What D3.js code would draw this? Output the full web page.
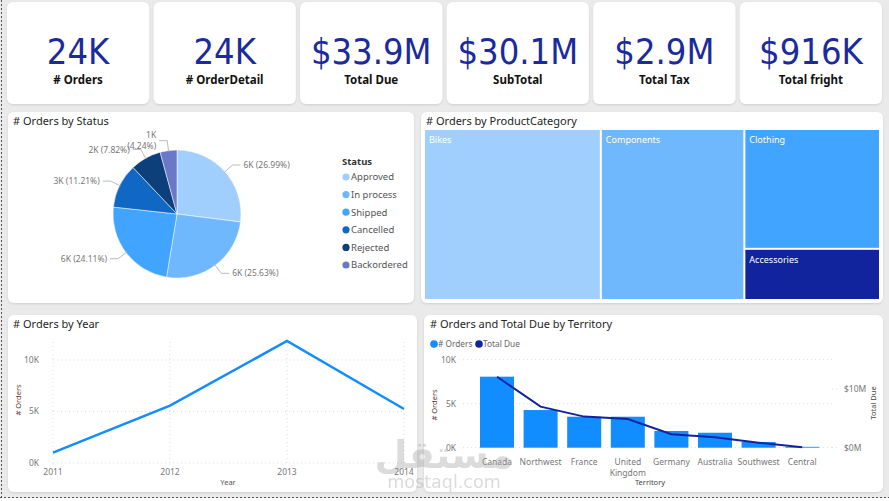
<!DOCTYPE html>
<html>
<head>
<meta charset="utf-8">
<script src="https://cdn.jsdelivr.net/npm/d3@7"></script>
<style>
  html, body { margin: 0; padding: 0; background: #fff; }
  svg { display: block; font-family: "Noto Sans", "Open Sans", sans-serif; }
</style>
</head>
<body>
<svg id="dash" width="889" height="501"></svg>
<script>
// ---- data ----
const kpiValues  = [23850, 23850, 33.9e6, 30.1e6, 2.9e6, 916e3];
const kpiFormats = [".2s", ".2s", "$.3s", "$.3s", "$.2s", "$.3s"];
const kpiLabels  = ["# Orders", "# OrderDetail", "Total Due", "SubTotal", "Total Tax", "Total fright"];

const statusNames  = ["Approved", "In process", "Shipped", "Cancelled", "Rejected", "Backordered"];
const statusCounts = [6437, 6113, 5750, 2674, 1865, 1011];
const statusColors = ["#a0cffe", "#6fb8fd", "#41a4ff", "#1167c4", "#0d3f7a", "#6b78c8"];

const categoryNames  = ["Bikes", "Components", "Clothing", "Accessories"];
const categoryOrders = [29400, 23860, 15800, 6750];
const categoryColors = ["#a0cffe", "#6fb8fd", "#41a4ff", "#12239e"];

const years        = [2011, 2012, 2013, 2014];
const ordersByYear = [1000, 5560, 11840, 5240];

const territories      = ["Canada", "Northwest", "France", "United Kingdom", "Germany", "Australia", "Southwest", "Central"];
const territoryOrders  = [8070, 4280, 3520, 3520, 1900, 1700, 650, 100];
const territoryDue     = [12.1e6, 7.0e6, 5.3e6, 4.9e6, 2.3e6, 1.8e6, 0.86e6, 0.07e6];

const svg = d3.select("#dash");
const tickColor = "#777";
const titleColor = "#252423";

// background
svg.append("rect").attr("width", 889).attr("height", 501).attr("fill", "#eaeaea");
svg.append("rect").attr("y", 498).attr("width", 889).attr("height", 3).attr("fill", "#fff");

const defs = svg.append("defs");
const shadow = defs.append("filter").attr("id", "shadow").attr("x", "-5%").attr("y", "-5%").attr("width", "110%").attr("height", "115%");
shadow.append("feDropShadow").attr("dx", 0).attr("dy", 1).attr("stdDeviation", 1.2)
  .attr("flood-color", "#000").attr("flood-opacity", 0.12);

function panel(x, y, w, h) {
  svg.append("rect").attr("x", x).attr("y", y).attr("width", w).attr("height", h)
    .attr("rx", 6).attr("fill", "#fff").attr("filter", "url(#shadow)");
  return svg.append("g").attr("transform", `translate(${x},${y})`);
}

// ---- KPI cards ----
const cardX = d3.scaleBand().domain(d3.range(kpiValues.length)).range([7, 882]).paddingInner(0.03);
kpiValues.forEach((v, i) => {
  const g = panel(cardX(i), 2, cardX.bandwidth(), 102);
  const cx = cardX.bandwidth() / 2;
  g.append("text").attr("x", cx).attr("y", 62).attr("text-anchor", "middle")
    .attr("font-family", "'DejaVu Sans Condensed', 'DejaVu Sans', sans-serif")
    .attr("font-size", 36).attr("fill", "#1b2a9c")
    .text(d3.format(kpiFormats[i])(v).replace("k", "K"));
  g.append("text").attr("x", cx).attr("y", 82).attr("text-anchor", "middle")
    .attr("font-size", 11.5).attr("font-weight", "bold").attr("fill", "#111")
    .text(kpiLabels[i]);
});

// ---- Orders by Status (pie) ----
{
  const g = panel(8, 112, 406, 191);
  g.append("text").attr("x", 5).attr("y", 13).attr("font-size", 11).attr("fill", titleColor).text("# Orders by Status");
  const cx = 169, cy = 102, r = 64;
  const total = d3.sum(statusCounts);
  const pie = d3.pie().sort(null)(statusCounts);
  const arc = d3.arc().innerRadius(0).outerRadius(r);
  const pg = g.append("g").attr("transform", `translate(${cx},${cy})`);
  pg.selectAll("path").data(pie).join("path")
    .attr("d", arc).attr("fill", (d, i) => statusColors[i])
    .attr("stroke", "#fff").attr("stroke-width", 0.5);

  pie.forEach((d, i) => {
    const a = (d.startAngle + d.endAngle) / 2;
    const p0 = [Math.sin(a) * (r - 1), -Math.cos(a) * (r - 1)];
    const p1 = [Math.sin(a) * (r + 10), -Math.cos(a) * (r + 10)];
    const right = Math.sin(a) > 0;
    const p2 = [p1[0] + (right ? 8 : -8), p1[1]];
    pg.append("polyline").attr("points", [p0, p1, p2].map(p => p.join(",")).join(" "))
      .attr("fill", "none").attr("stroke", "#bbb").attr("stroke-width", 1);
    const lbl = Math.round(d.data / 1000) + "K";
    const pct = "(" + (d.data / total * 100).toFixed(2) + "%)";
    const tx = p2[0] + (right ? 3 : -3);
    const t = pg.append("text").attr("x", tx).attr("text-anchor", right ? "start" : "end")
      .attr("font-size", 8.5).attr("fill", tickColor);
    if (i === statusCounts.length - 1) {
      t.attr("y", p2[1] - 3).text(lbl);
      pg.append("text").attr("x", tx).attr("y", p2[1] + 8).attr("text-anchor", "end")
        .attr("font-size", 8.5).attr("fill", tickColor).text(pct);
    } else {
      t.attr("y", p2[1] + 3).text(lbl + " " + pct);
    }
  });

  // legend
  const lg = g.append("g").attr("transform", "translate(334,49)");
  lg.append("text").attr("x", 0).attr("y", 4).attr("font-size", 9.5).attr("font-weight", "bold").attr("fill", "#333").text("Status");
  statusNames.forEach((n, i) => {
    const y = 16 + i * 17.6;
    lg.append("circle").attr("cx", 4).attr("cy", y).attr("r", 3.6).attr("fill", statusColors[i]);
    lg.append("text").attr("x", 9).attr("y", y + 3.3).attr("font-size", 9.5).attr("fill", "#555").text(n);
  });
}

// ---- Orders by ProductCategory (treemap) ----
{
  const g = panel(421, 112, 462, 191);
  g.append("text").attr("x", 5).attr("y", 13).attr("font-size", 11).attr("fill", titleColor).text("# Orders by ProductCategory");
  const root = d3.hierarchy({ children: categoryNames.map((n, i) => ({ name: n, value: categoryOrders[i], color: categoryColors[i] })) })
    .sum(d => d.value || 0);
  d3.treemap().tile(d3.treemapSquarify.ratio(1)).size([454, 169]).paddingInner(2).round(false)(root);
  const tg = g.append("g").attr("transform", "translate(4,18)");
  const cells = tg.selectAll("g").data(root.leaves()).join("g")
    .attr("transform", d => `translate(${d.x0},${d.y0})`);
  cells.append("rect").attr("width", d => d.x1 - d.x0).attr("height", d => d.y1 - d.y0)
    .attr("fill", d => d.data.color);
  cells.append("text").attr("x", 4).attr("y", 13).attr("font-size", 9).attr("fill", "#fff").text(d => d.data.name);
}

// ---- Orders by Year (line) ----
{
  const px = 8, py = 315;
  const g = panel(px, py, 409, 177);
  g.append("text").attr("x", 5).attr("y", 13).attr("font-size", 11).attr("fill", titleColor).text("# Orders by Year");
  const x = d3.scalePoint().domain(years).range([53 - px, 404 - px]);
  const y = d3.scaleLinear().domain([0, d3.max(ordersByYear)]).range([463 - py, 341 - py]);
  const yTicks = [0, 5000, 10000];
  g.append("g").selectAll("line").data(yTicks).join("line")
    .attr("x1", x.range()[0]).attr("x2", x.range()[1]).attr("y1", d => y(d)).attr("y2", d => y(d))
    .attr("stroke", "#ddd").attr("stroke-dasharray", "1,3");
  g.append("g").selectAll("line").data(years).join("line")
    .attr("x1", d => x(d)).attr("x2", d => x(d)).attr("y1", y.range()[0]).attr("y2", y.range()[1])
    .attr("stroke", "#ddd").attr("stroke-dasharray", "1,3");
  g.append("g").selectAll("text").data(yTicks).join("text")
    .attr("x", 39 - px).attr("y", d => y(d) + 3).attr("text-anchor", "end")
    .attr("font-size", 8.5).attr("fill", tickColor).text(d => d / 1000 + "K");
  g.append("g").selectAll("text").data(years).join("text")
    .attr("x", d => x(d)).attr("y", 475 - py).attr("text-anchor", "middle")
    .attr("font-size", 8.5).attr("fill", tickColor).text(d => d);
  g.append("text").attr("x", 228 - px).attr("y", 485 - py).attr("text-anchor", "middle")
    .attr("font-size", 7.5).attr("fill", "#555").text("Year");
  g.append("text").attr("transform", `translate(${21 - px},${400 - py}) rotate(-90)`).attr("text-anchor", "middle")
    .attr("font-size", 7.5).attr("fill", "#6a3a3a").text("# Orders");
  const line = d3.line().x((d, i) => x(years[i])).y(d => y(d));
  g.append("path").datum(ordersByYear).attr("d", line)
    .attr("fill", "none").attr("stroke", "#118dff").attr("stroke-width", 2.5).attr("stroke-linejoin", "miter");
}

// ---- Orders and Total Due by Territory (combo) ----
{
  const px = 424, py = 315;
  const g = panel(px, py, 459, 177);
  g.append("text").attr("x", 6).attr("y", 13).attr("font-size", 11).attr("fill", titleColor).text("# Orders and Total Due by Territory");
  // legend
  const lg = g.append("g").attr("transform", `translate(${434 - px},${344 - py})`);
  lg.append("circle").attr("cx", 0).attr("cy", 0).attr("r", 3.8).attr("fill", "#118dff");
  lg.append("text").attr("x", 4).attr("y", 3).attr("font-size", 8.3).attr("fill", "#666").text("# Orders");
  lg.append("circle").attr("cx", 45).attr("cy", 0).attr("r", 3.8).attr("fill", "#12239e");
  lg.append("text").attr("x", 49).attr("y", 3).attr("font-size", 8.3).attr("fill", "#666").text("Total Due");

  const x = d3.scaleBand().domain(territories).range([475.2 - px, 824 - px]).paddingInner(0.22).paddingOuter(0.11);
  const y = d3.scaleLinear().domain([0, 10000]).range([447.7 - py, 359.7 - py]);
  const y2 = d3.scaleLinear().domain([0, 15e6]).range([447.7 - py, 359.7 - py]);
  const yTicks = [0, 5000, 10000];
  g.append("g").selectAll("line").data(yTicks).join("line")
    .attr("x1", 463 - px).attr("x2", 835 - px).attr("y1", d => y(d)).attr("y2", d => y(d))
    .attr("stroke", "#ddd").attr("stroke-dasharray", "1,3");
  g.append("g").selectAll("text").data(yTicks).join("text")
    .attr("x", 456 - px).attr("y", d => y(d) + 3).attr("text-anchor", "end")
    .attr("font-size", 8.5).attr("fill", tickColor).text(d => d / 1000 + "K");
  const y2Ticks = [0, 10e6];
  g.append("g").selectAll("line").data(y2Ticks).join("line")
    .attr("x1", 832 - px).attr("x2", 838 - px).attr("y1", d => y2(d)).attr("y2", d => y2(d))
    .attr("stroke", "#ddd").attr("stroke-dasharray", "1,3");
  g.append("g").selectAll("text").data(y2Ticks).join("text")
    .attr("x", 844 - px).attr("y", d => y2(d) + 3)
    .attr("font-size", 8.5).attr("fill", tickColor).text(d => "$" + d / 1e6 + "M");
  g.append("text").attr("transform", `translate(${437 - px},${405 - py}) rotate(-90)`).attr("text-anchor", "middle")
    .attr("font-size", 7.5).attr("fill", "#5a3a3a").text("# Orders");
  g.append("text").attr("transform", `translate(${876 - px},${403 - py}) rotate(-90)`).attr("text-anchor", "middle")
    .attr("font-size", 7.5).attr("fill", "#444").text("Total Due");

  g.append("g").selectAll("rect").data(territoryOrders).join("rect")
    .attr("x", (d, i) => x(territories[i])).attr("width", x.bandwidth())
    .attr("y", d => y(d)).attr("height", d => y(0) - y(d)).attr("fill", "#118dff");

  const line = d3.line().x((d, i) => x(territories[i]) + x.bandwidth() / 2).y(d => y2(d));
  g.append("path").datum(territoryDue).attr("d", line)
    .attr("fill", "none").attr("stroke", "#12239e").attr("stroke-width", 2);

  const xl = g.append("g").selectAll("text").data(territories).join("text")
    .attr("text-anchor", "middle").attr("font-size", 8.5).attr("fill", tickColor);
  xl.each(function (d) {
    const t = d3.select(this);
    const cxp = x(d) + x.bandwidth() / 2;
    const words = d === "United Kingdom" ? ["United", "Kingdom"] : [d];
    words.forEach((w, k) => t.append("tspan").attr("x", cxp).attr("y", 465 - py + k * 11).text(w));
  });
  g.append("text").attr("x", 650 - px).attr("y", 485 - py).attr("text-anchor", "middle")
    .attr("font-size", 7.5).attr("fill", "#444").text("Territory");
}

// dotted frame of the report page
svg.append("line").attr("x1", 1.5).attr("x2", 1.5).attr("y1", 0).attr("y2", 498)
  .attr("stroke", "#555").attr("stroke-dasharray", "2,2");
svg.append("line").attr("x1", 0).attr("x2", 889).attr("y1", 497.5).attr("y2", 497.5)
  .attr("stroke", "#555").attr("stroke-dasharray", "2,2");

// watermark
const wm = svg.append("g").attr("fill", "#9a9a9a").attr("opacity", 0.35)
  .attr("font-family", "'DejaVu Sans', sans-serif").attr("font-weight", "bold");
wm.append("text").attr("x", 444).attr("y", 468).attr("text-anchor", "middle").attr("font-size", 38).text("مستقل");
wm.append("text").attr("x", 444).attr("y", 488).attr("text-anchor", "middle").attr("font-size", 17.5)
  .attr("font-weight", "normal").text("mostaql.com");
</script>
</body>
</html>
